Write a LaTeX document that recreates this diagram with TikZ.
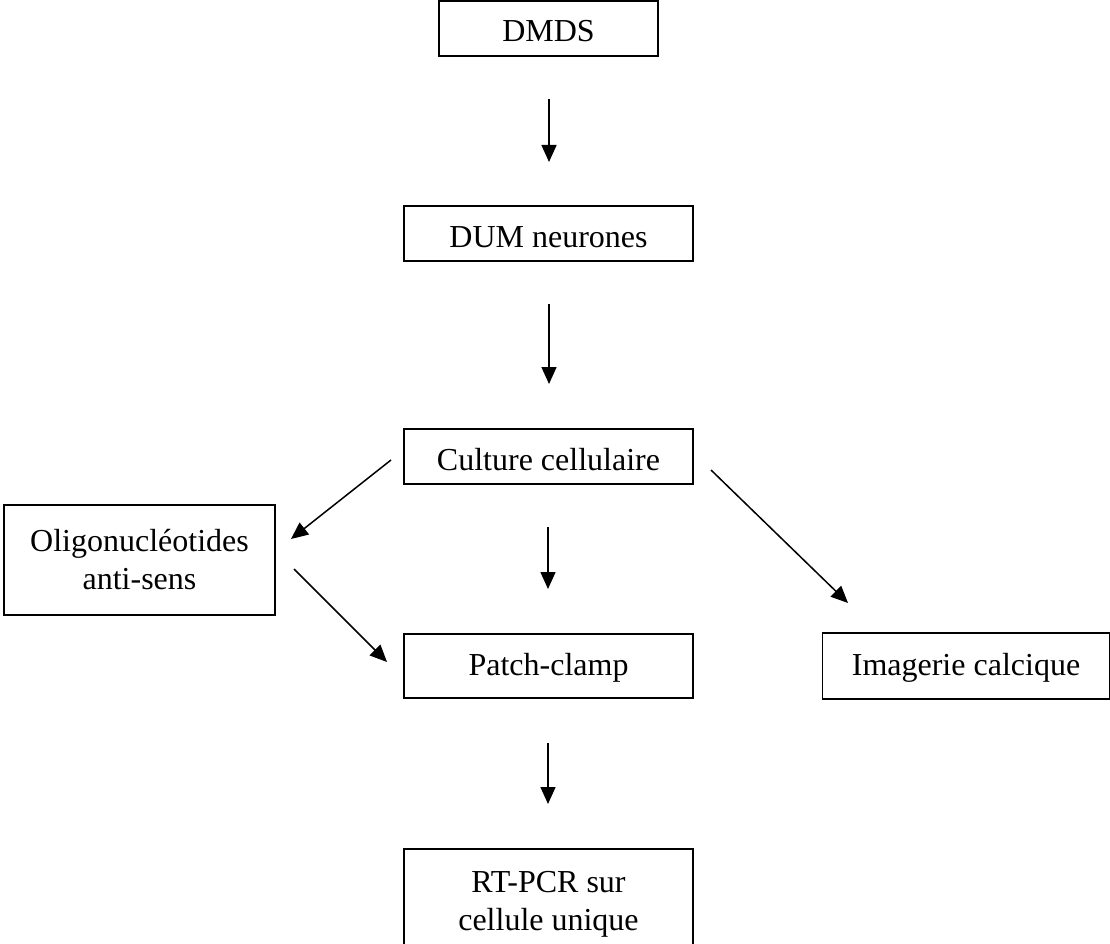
\documentclass[tikz,border=0pt]{standalone}
\usepackage{fontspec}
\setmainfont{Liberation Serif}
\usetikzlibrary{arrows.meta}
\begin{document}
\begin{tikzpicture}[x=1pt,y=-1pt,
  box/.style={draw=black,line width=1.8pt,rectangle,inner sep=0pt,
    font=\fontsize{32}{38}\selectfont,align=center},
  onebox/.style={box,text height=32pt,text depth=5pt},
  lowbox/.style={box,text height=25pt,text depth=7pt},
  conn/.style={line width=1.5pt,-{Triangle[length=17pt,width=15pt]}}]
\useasboundingbox[fill=white] (0,0) rectangle (1110,944);
% boxes
\node[onebox,minimum width=219pt,minimum height=55pt] (dmds) at (548.5,28.5) {DMDS};
\node[onebox,minimum width=289pt,minimum height=55pt] (dum) at (548.5,233.5) {DUM neurones};
\node[onebox,minimum width=289pt,minimum height=55pt] (cult) at (548.5,456.5) {Culture cellulaire};
\node[box,minimum width=271pt,minimum height=110pt] (oligo) at (139.5,560) {Oligonucléotides\\anti-sens};
\node[lowbox,minimum width=289pt,minimum height=64pt] (patch) at (548.5,666) {Patch-clamp};
\node[lowbox,minimum width=287pt,minimum height=66pt] (imag) at (966,666) {Imagerie calcique};
\node[box,minimum width=289pt,minimum height=110pt] (rt) at (548.5,904) {RT-PCR sur\\cellule unique};
% arrow end points
\coordinate (a1s) at (549,99);   \coordinate (a1e) at (549,162);
\coordinate (a2s) at (549,304);  \coordinate (a2e) at (549,384);
\coordinate (a3s) at (548,527);  \coordinate (a3e) at (548,589);
\coordinate (a4s) at (548,743);  \coordinate (a4e) at (548,804);
\coordinate (a5s) at (391,460);  \coordinate (a5e) at (291,539);
\coordinate (a6s) at (294,569);  \coordinate (a6e) at (387,662);
\coordinate (a7s) at (711,470);  \coordinate (a7e) at (848,603);
% connectors
\draw[conn] (a1s) -- (a1e);
\draw[conn] (a2s) -- (a2e);
\draw[conn] (a3s) -- (a3e);
\draw[conn] (a4s) -- (a4e);
\draw[conn] (a5s) -- (a5e);
\draw[conn] (a6s) -- (a6e);
\draw[conn] (a7s) -- (a7e);
\end{tikzpicture}
\end{document}
